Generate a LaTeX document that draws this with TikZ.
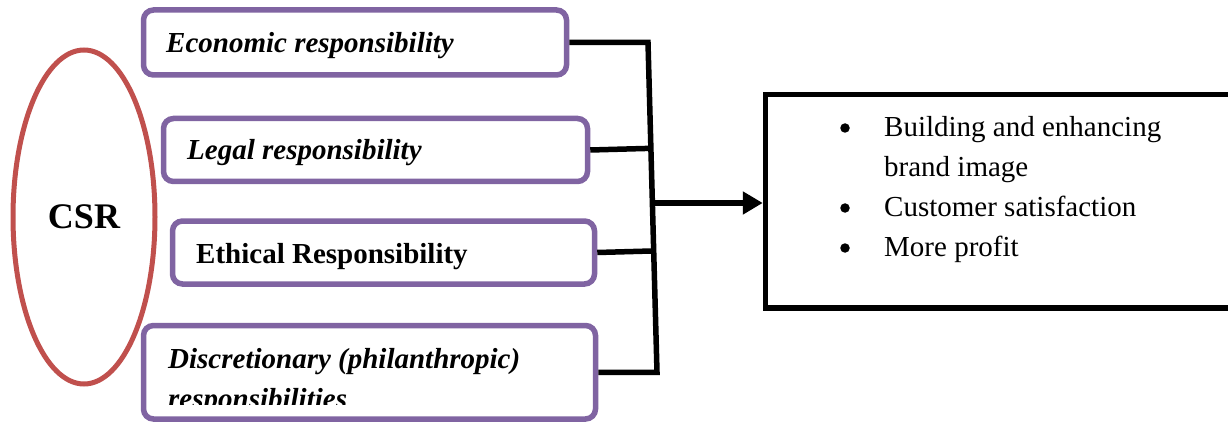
\documentclass[tikz,border=0pt]{standalone}
\usepackage{fontspec}
\setmainfont{Liberation Serif}
\usetikzlibrary{arrows.meta,calc,shapes.geometric}
\definecolor{boxpurple}{HTML}{8064A2}
\definecolor{csrred}{HTML}{C0504D}
\begin{document}
\begin{tikzpicture}[x=1pt,y=-1pt,
  rbox/.style={draw=boxpurple, line width=5.5pt, rounded corners=10pt, inner sep=0pt},
  lbl/.style={inner sep=0pt, anchor=base west, font=\fontsize{29pt}{40pt}\selectfont\bfseries\itshape},
  conn/.style={line width=5.5pt, draw=black},
  bul/.style={circle, fill=black, inner sep=0pt, minimum size=9.5pt}]
\useasboundingbox (0,0) rectangle (1228,422);
\clip (0,0) rectangle (1228,422);

% CSR ellipse
\node[draw=csrred, line width=5pt, ellipse, minimum width=142pt, minimum height=334pt, inner sep=0pt,
      font=\fontsize{36pt}{40pt}\selectfont\bfseries] (csr) at (84,217) {CSR};

% responsibility boxes
\node[rbox, minimum width=423pt, minimum height=65pt] (b1) at (355,42.5) {};
\node[rbox, minimum width=424pt, minimum height=63pt] (b2) at (375.5,150) {};
\node[rbox, minimum width=422pt, minimum height=63pt] (b3) at (383.5,252.5) {};
\node[rbox, minimum width=452pt, minimum height=93.5pt] (b4) at (369.5,372.25) {};

\node[lbl] (l1) at (166,53) {Economic responsibility};
\node[lbl] (l2) at (187,160) {Legal responsibility};
\node[lbl, font=\fontsize{29pt}{40pt}\selectfont\bfseries\upshape] (l3) at (196,263) {Ethical Responsibility};
\begin{scope}
  \clip (140,320) rectangle (600,404);
  \node[lbl] (l4a) at (168,368) {Discretionary (philanthropic)};
  \node[lbl] (l4b) at (168,408) {responsibilities};
\end{scope}

% result box
\node[draw, line width=5.5pt, minimum width=480pt, minimum height=213.5pt, inner sep=0pt] (res) at (1005.5,201.25) {};
\node[anchor=base west, inner sep=0pt, font=\fontsize{29pt}{40pt}\selectfont] (list) at (884,137)
{\begin{tabular}[t]{@{}l@{}}
Building and enhancing\\
brand image\\
Customer satisfaction\\
More profit
\end{tabular}};
\node[bul] (d1) at (845,128) {};
\node[bul] (d2) at (845,208) {};
\node[bul] (d3) at (845,248) {};

% connectors
\coordinate (tt) at (648,42.5);
\coordinate (tb) at (657,372.25);
\draw[conn] (b1.east) -- (tt) -- (tb) -- (b4.east);
\draw[conn] (b2.east) -- ($(tt)!(b2.east)!(tb)$);
\draw[conn] (b3.east) -- ($(tt)!(b3.east)!(tb)$);
\coordinate (j) at ($(tt)!0.4867!(tb)$);
\draw[conn, -{Triangle[length=20pt,width=22pt]}] (j) -- (j -| res.west);
\end{tikzpicture}
\end{document}
